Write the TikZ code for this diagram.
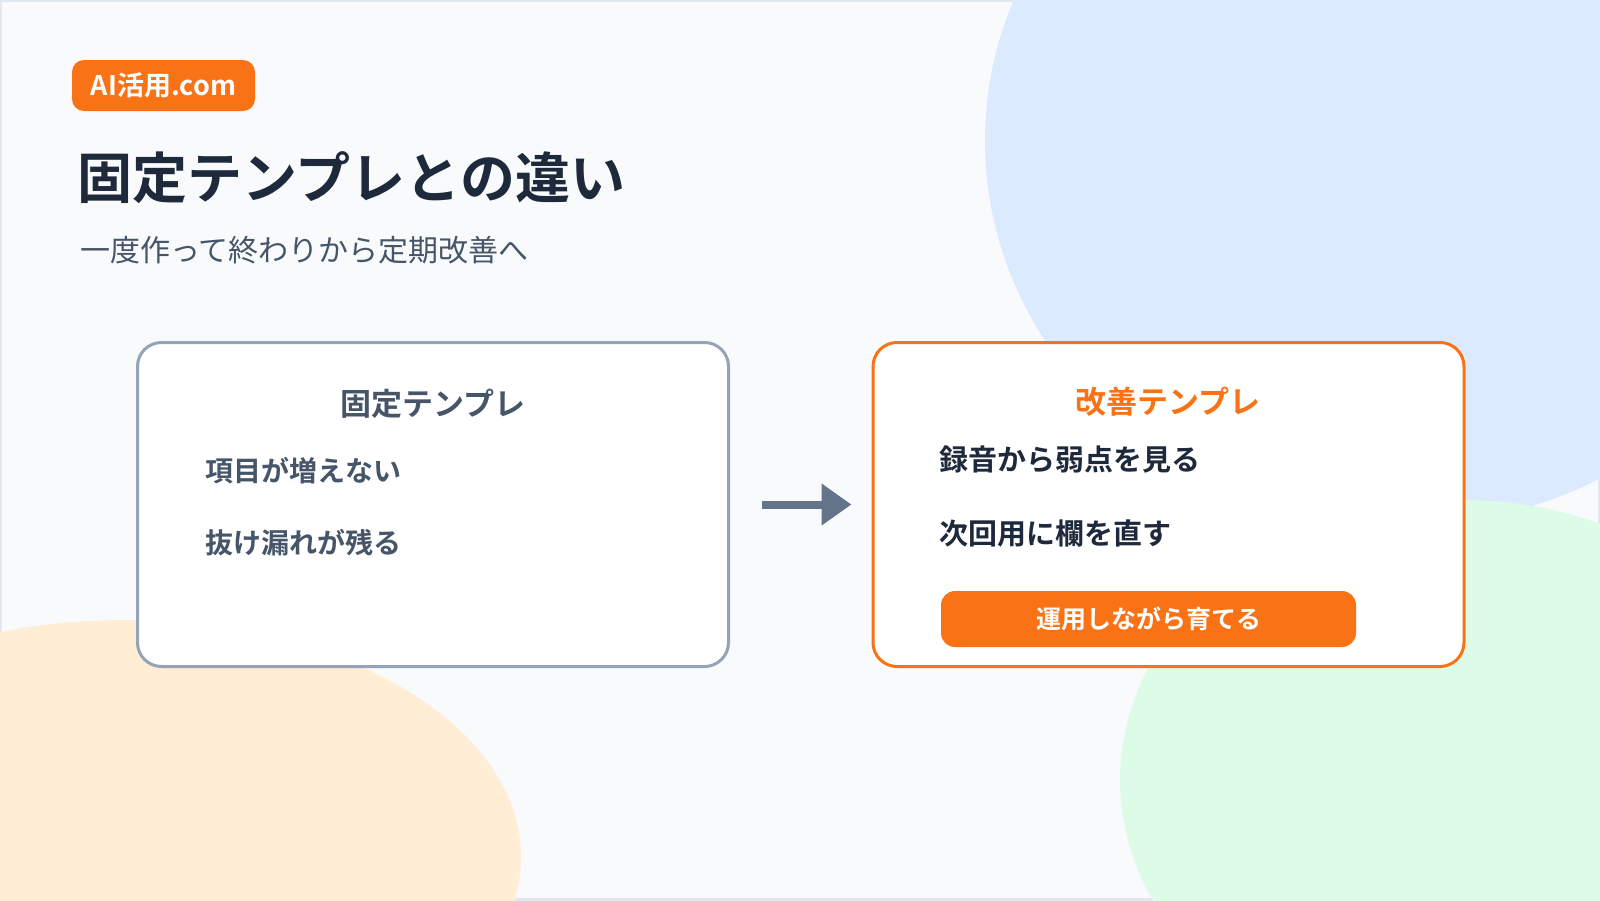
\documentclass[tikz,border=0pt]{standalone}
\usepackage{fontspec}
\setmainfont{Noto Sans CJK JP}[BoldFont={Noto Sans CJK JP Bold}]
\usetikzlibrary{positioning,arrows.meta}
\definecolor{pagebg}{HTML}{F8FAFC}
\definecolor{pageline}{HTML}{E2E8F0}
\definecolor{blobblue}{HTML}{DBEAFE}
\definecolor{blobgreen}{HTML}{DCFCE7}
\definecolor{blobpeach}{HTML}{FFEDD5}
\definecolor{accent}{HTML}{F97316}
\definecolor{slateline}{HTML}{94A3B8}
\definecolor{slatearrow}{HTML}{64748B}
\definecolor{slatetext}{HTML}{475569}
\definecolor{inktext}{HTML}{1E293B}
\tikzset{
  cardbox/.style={draw, rounded corners=24pt, line width=3pt, fill=white,
    minimum width=591pt, minimum height=324pt, inner sep=0pt},
  cardtitle/.style={font=\fontsize{31}{36}\selectfont\bfseries, inner sep=0pt},
  carditem/.style={font=\fontsize{28}{34}\selectfont\bfseries, anchor=west, inner sep=0pt},
  tagbox/.style={fill=accent, rounded corners=12pt, text=white, minimum width=183pt,
    minimum height=51pt, font=\fontsize{27}{30}\selectfont\bfseries, inner sep=0pt},
  pillbox/.style={fill=accent, rounded corners=14pt, text=white, minimum width=415pt,
    minimum height=56pt, font=\fontsize{25}{30}\selectfont\bfseries, inner sep=0pt},
  flowarrow/.style={-{Triangle[length=30pt, width=40pt]}, line width=8pt, slatearrow},
}

\begin{document}
\begin{tikzpicture}[x=1pt, y=-1pt]
  \useasboundingbox (0,0) rectangle (1600,900);
  % background and blobs
  \begin{scope}
    \clip (0,0) rectangle (1600,900);
    \fill[pagebg] (0,0) rectangle (1600,900);
    \draw[pageline, line width=4pt] (0,0) rectangle (1600,900);
    \fill[blobblue] (1400,141) ellipse [x radius=415pt, y radius=385pt];
    \fill[blobgreen] (1462,780) ellipse [x radius=342pt, y radius=280pt];
    \fill[blobpeach] (125,857) ellipse [x radius=396pt, y radius=237pt];
  \end{scope}

  \node[tagbox] (tag) at (163.5,85.5) {AI活用.com};
  \node[anchor=west, inner sep=0pt, text=inktext, font=\fontsize{55}{62}\selectfont\bfseries] (title) at (77,178) {固定テンプレとの違い};
  \node[anchor=west, inner sep=0pt, text=slatetext, font=\fontsize{30}{34}\selectfont] (subtitle) at (80,250) {一度作って終わりから定期改善へ};

  % fixed template card
  \node[cardbox, draw=slateline] (fixed) at (433,504.5) {};
  \node[cardtitle, text=slatetext] (fixedtitle) at (433,403.5) {固定テンプレ};
  \node[carditem, text=slatetext] (fixedone) at (205,471) {項目が増えない};
  \node[carditem, text=slatetext] (fixedtwo) at (205,543) {抜け漏れが残る};

  % improving template card
  \node[cardbox, draw=accent] (improve) at (1168.5,504.5) {};
  \node[cardtitle, text=accent] (improvetitle) at (1168,402) {改善テンプレ};
  \node[carditem, text=inktext, font=\fontsize{29}{34}\selectfont\bfseries] (improveone) at (939,460) {録音から弱点を見る};
  \node[carditem, text=inktext, font=\fontsize{29}{34}\selectfont\bfseries] (improvetwo) at (939,533) {次回用に欄を直す};
  \node[pillbox] (grow) at (1148.5,619) {運用しながら育てる};

  \draw[flowarrow, shorten <=31.5pt, shorten >=20pt] (fixed) -- (improve);
\end{tikzpicture}
\end{document}
